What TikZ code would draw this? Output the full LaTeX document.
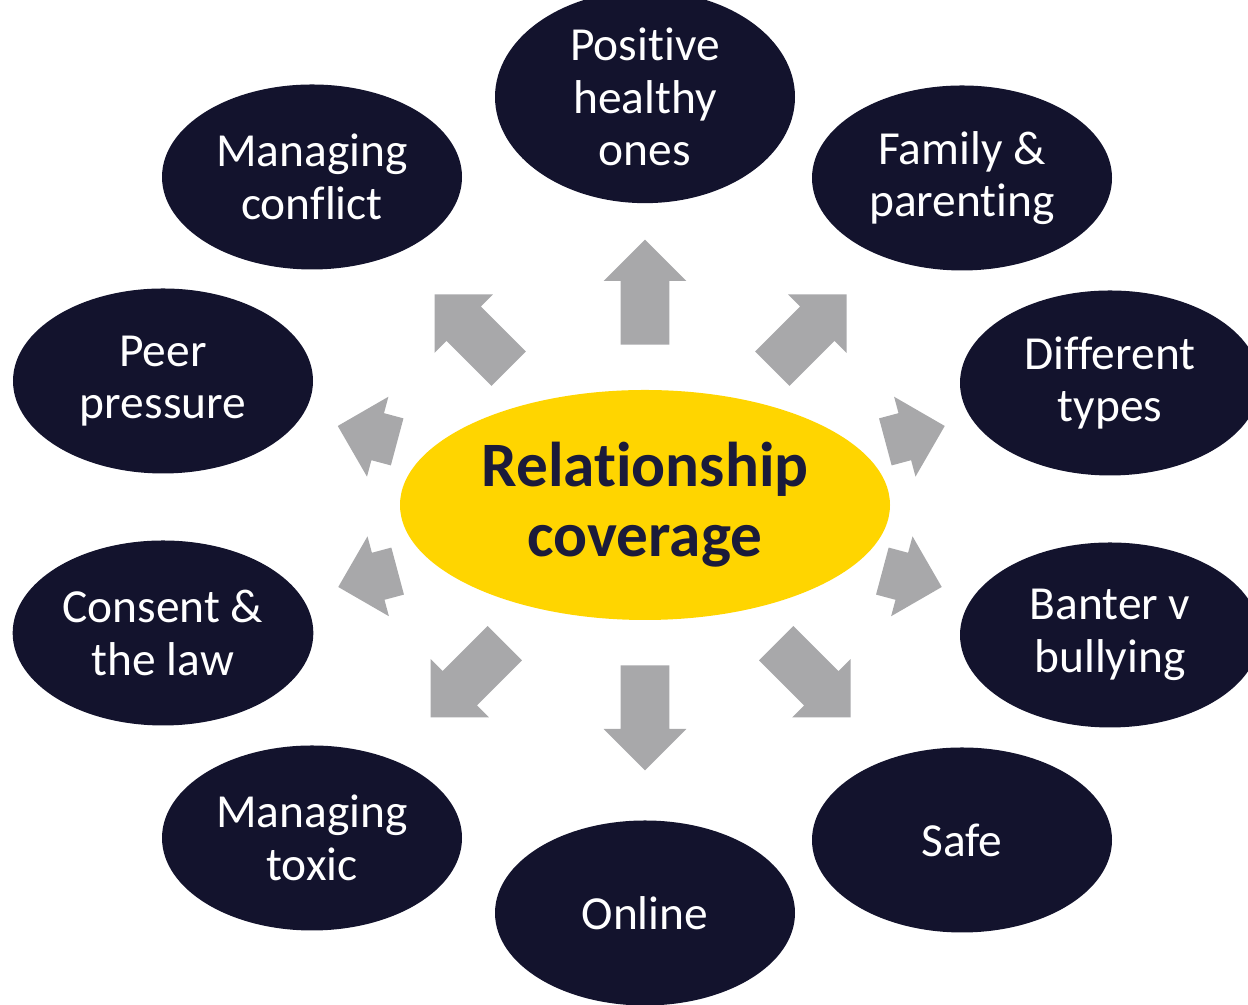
\documentclass[tikz,border=0pt]{standalone}
\usepackage{fontspec}
\setmainfont{Carlito}[Ligatures={NoCommon}]
\usetikzlibrary{shapes.geometric,shapes.arrows}
\definecolor{navy}{HTML}{13132D}
\definecolor{gold}{HTML}{FFD500}
\definecolor{ink}{HTML}{1B1B3A}
\definecolor{arrgray}{HTML}{A8A8AA}

\begin{document}
\begin{tikzpicture}[
        topic/.style={ellipse,fill=navy,text=white,minimum width=6cm,minimum height=3.7cm,
                align=center,font=\fontsize{27}{30}\selectfont},
        arr/.style={single arrow,fill=arrgray,minimum height=2.1cm,inner xsep=0pt,inner ysep=0.48cm,
                single arrow head extend=0.34cm,single arrow tip angle=90,anchor=tail},
        shortarr/.style={arr,minimum height=1.23cm}]
        \useasboundingbox (0,0) rectangle (24.96,20.1);
        % centre
        \node[ellipse,fill=gold,text=ink,minimum width=9.8cm,minimum height=4.6cm,align=center,
                font=\bfseries\fontsize{36}{40}\selectfont](rc) at (12.9,10) {Relationship\\coverage};
        % topics
        \node[topic](pos) at (12.9,18.16) {Positive\\healthy\\ones};
        \node[topic](fam) at (19.24,16.54) {Family \&\\parenting};
        \node[topic](dif) at (22.2,12.44) {Different\\types};
        \node[topic](ban) at (22.2,7.4) {Banter v\\bullying};
        \node[topic](saf) at (19.24,3.3) {Safe};
        \node[topic](onl) at (12.9,1.84) {Online};
        \node[topic](tox) at (6.24,3.34) {Managing\\toxic};
        \node[topic](con) at (3.26,7.44) {Consent \&\\the law};
        \node[topic](pee) at (3.26,12.48) {Peer\\pressure};
        \node[topic](man) at (6.24,16.56) {Managing\\conflict};
        % arrows, placed by their tails
        \node[arr,rotate=90](a1) at (12.9,13.2) {};
        \node[arr,rotate=45](a2) at (15.44,12.72) {};
        \node[shortarr,rotate=15](a3) at (17.7,11.26) {};
        \node[shortarr,rotate=-15](a4) at (17.64,8.68) {};
        \node[arr,rotate=-45](a5) at (15.52,7.24) {};
        \node[arr,rotate=-90](a6) at (12.9,6.8) {};
        \node[arr,rotate=-135](a7) at (10.1,7.24) {};
        \node[shortarr,rotate=195](a8) at (7.96,8.68) {};
        \node[shortarr,rotate=165](a9) at (7.95,11.26) {};
        \node[arr,rotate=135](a10) at (10.18,12.72) {};
\end{tikzpicture}
\end{document}
